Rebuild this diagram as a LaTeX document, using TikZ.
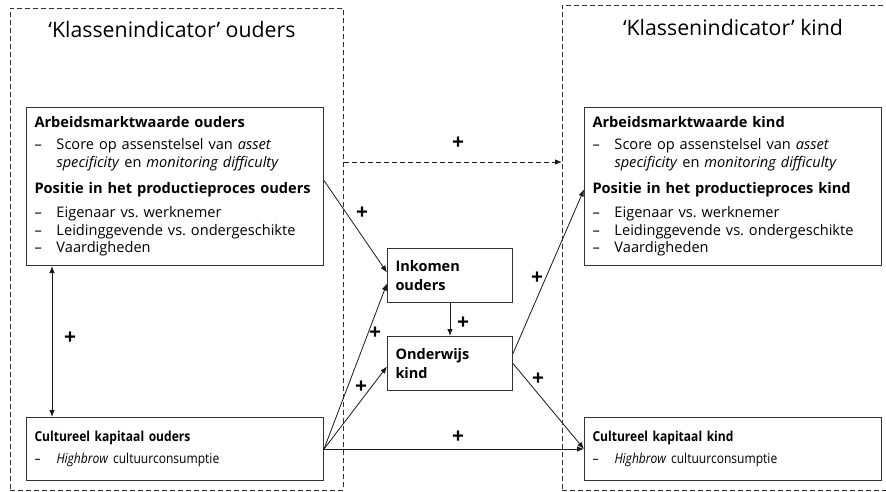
\documentclass[tikz,border=0pt]{standalone}
\usepackage{fontspec}
\setmainfont{Open Sans}
\newfontfamily\condfont[FakeStretch=0.88]{Open Sans}
\usetikzlibrary{arrows.meta,calc}
\newcommand{\myitem}{\makebox[22pt][l]{–}}
\newcommand{\myind}{\hspace*{22pt}}
\begin{document}
\begin{tikzpicture}[x=1pt,y=-1pt,
  dashbox/.style={draw=black!80,line width=0.7pt,dash pattern=on 5pt off 3pt,anchor=north west,inner sep=0pt},
  bigbox/.style={draw=black!80,line width=1pt,anchor=north west,minimum width=297pt,minimum height=158pt,
     text width=281pt,inner xsep=8pt,inner ysep=0pt,align=left,font=\fontsize{14.6}{17.5}\selectfont},
  smallbox/.style={draw=black!80,line width=1pt,anchor=north west,minimum width=125pt,minimum height=54pt,
     text width=109pt,inner xsep=8pt,inner ysep=0pt,align=left,font=\fontsize{14.5}{18.5}\selectfont\bfseries},
  cbox/.style={draw=black!80,line width=1pt,anchor=north west,minimum width=297pt,minimum height=63pt,
     text width=281pt,inner xsep=8pt,inner ysep=0pt,align=left,font=\condfont\fontsize{13.7}{22}\selectfont},
  title/.style={font=\fontsize{21.3}{24}\selectfont},
  plus/.style={font=\fontsize{21}{21}\selectfont\bfseries,inner sep=0pt},
  tip/.style={Latex[length=7pt,width=5.5pt]},
  arr/.style={draw=black!90,line width=0.8pt,-{Latex[length=7pt,width=5.5pt]}},
]
\useasboundingbox (0,0) rectangle (886,492);
% dashed group frames
\node[dashbox,minimum width=333pt,minimum height=482pt] (lgrp) at (10,8) {};
\node[dashbox,minimum width=330pt,minimum height=485pt] (rgrp) at (562,5) {};
\node[title] (lt) at (172,30) {‘Klassenindicator’ ouders};
\node[title] (rt) at (733,28) {‘Klassenindicator’ kind};
% boxes
\node[bigbox] (lp) at (26,107) {%
\textbf{Arbeidsmarktwaarde ouders}\\[4.5pt]
\myitem Score op assenstelsel van \textit{asset}\\
\myind\textit{specificity} en \textit{monitoring difficulty}\\[9pt]
\textbf{Positie in het productieproces ouders}\\[6.5pt]
\myitem Eigenaar vs.\ werknemer\\
\myitem Leidinggevende vs.\ ondergeschikte\\
\myitem Vaardigheden};
\node[bigbox] (rp) at (584,107) {%
\textbf{Arbeidsmarktwaarde kind}\\[4.5pt]
\myitem Score op assenstelsel van \textit{asset}\\
\myind\textit{specificity} en \textit{monitoring difficulty}\\[9pt]
\textbf{Positie in het productieproces kind}\\[6.5pt]
\myitem Eigenaar vs.\ werknemer\\
\myitem Leidinggevende vs.\ ondergeschikte\\
\myitem Vaardigheden};
\node[smallbox] (ink) at (387,248) {Inkomen\\ouders};
\node[smallbox] (ond) at (387,336) {Onderwijs\\kind};
\node[cbox] (lc) at (26,417) {\textbf{Cultureel kapitaal ouders}\\
\myitem\textit{Highbrow} cultuurconsumptie};
\node[cbox] (rc) at (584,417) {\textbf{Cultureel kapitaal kind}\\
\myitem\textit{Highbrow} cultuurconsumptie};
% connectors
\coordinate (dy) at (0,162);
\draw[arr,dash pattern=on 5pt off 3pt] (lgrp.east |- dy) -- (rgrp.west |- dy);
\draw[arr] ([yshift=6pt]lp.east) -- ([yshift=3pt]ink.west);
\draw[arr] (lc.east) -- ([yshift=-8pt]ink.west);
\draw[arr] (lc.east) -- ([yshift=-3pt]ond.west);
\draw[arr] (lc.east) -- (rc.west);
\draw[arr] (ink.south) -- (ond.north);
\draw[arr] ([yshift=10pt]ond.east) -- ([yshift=-3pt]rp.west);
\draw[arr] (ond.east) -- (rc.west);
\draw[draw=black!90,line width=0.8pt,{Latex[length=7pt,width=5.5pt]}-{Latex[length=7pt,width=5.5pt]}]
  ($(lp.south west)+(26,0)$) -- ($(lc.north west)+(26,0)$);
% plus labels
\node[plus] (p1) at (458,143) {+};
\node[plus] (p2) at (362,213) {+};
\node[plus] (p3) at (463,323) {+};
\node[plus] (p4) at (375,333) {+};
\node[plus] (p5) at (361,387) {+};
\node[plus] (p6) at (537,278) {+};
\node[plus] (p7) at (538,379) {+};
\node[plus] (p8) at (458,437) {+};
\node[plus] (p9) at (70,338) {+};
\end{tikzpicture}
\end{document}
